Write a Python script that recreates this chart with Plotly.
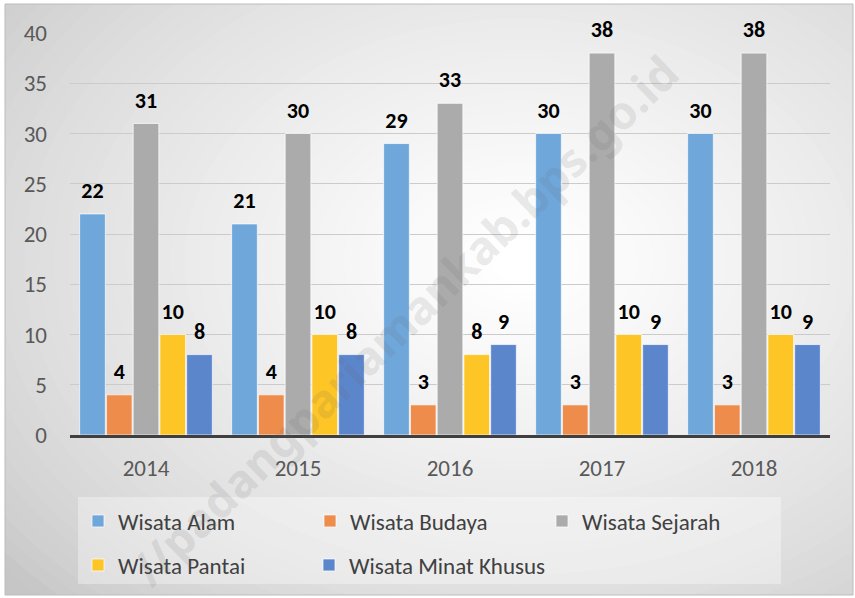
"""Jumlah objek wisata per jenis, 2014-2018."""

import plotly.graph_objects as go

years = ["2014", "2015", "2016", "2017", "2018"]
alam = [22, 21, 29, 30, 30]
budaya = [4, 4, 3, 3, 3]
sejarah = [31, 30, 33, 38, 38]
pantai = [10, 10, 8, 10, 10]
minat_khusus = [8, 8, 9, 9, 9]

series = [
    ("Wisata Alam", alam, "#6fa7db", "legend"),
    ("Wisata Budaya", budaya, "#ee8c4b", "legend"),
    ("Wisata Sejarah", sejarah, "#ababab", "legend"),
    ("Wisata Pantai", pantai, "#fdc526", "legend2"),
    ("Wisata Minat Khusus", minat_khusus, "#5c86cb", "legend3"),
]

FONT = "Carlito, Lato, sans-serif"
W, H = 855, 598
L, R, T, B = 70, 25, 33, 163  # plot area 70..830 x 33..435
GAP = 0.12


def px(x, y):
    """Pixel position -> paper coords."""
    return (x - L) / (W - L - R), (H - B - y) / (H - T - B)


fig = go.Figure()

for name, values, color, legend in series:
    fig.add_trace(
        go.Bar(
            x=years,
            y=values,
            name=name,
            legend=legend,
            marker=dict(color=color, line=dict(color="rgba(255,255,255,0.7)", width=1)),
            hovertemplate=f"{name}<br>%{{x}}: %{{y}}<extra></extra>",
        )
    )

# value labels, grouped the same way as the bars
for name, values, color, legend in series:
    fig.add_trace(
        go.Scatter(
            x=years,
            y=values,
            mode="markers+text",
            text=[f"<b>{v}</b>" for v in values],
            textposition="top center",
            textfont=dict(family=FONT, size=22, color="#000000"),
            marker=dict(size=15, color="rgba(0,0,0,0)"),
            cliponaxis=False,
            showlegend=False,
            hoverinfo="skip",
        )
    )

# radial-ish background: stacked ellipses from grey edge to white centre
shapes = []
x0, y0 = px(5, 595)
x1, y1 = px(853, 4)
shapes.append(dict(type="rect", xref="paper", yref="paper", x0=x0, y0=y0, x1=x1, y1=y1,
                   fillcolor="#c6c6c6", line=dict(width=0), layer="below"))
steps = 45
cx, cy = 520, 260
for i in range(steps):
    f = i / (steps - 1)
    rx = 640 * (1 - f) + 30
    ry = rx * 0.72
    g = int(round(199 + (255 - 199) * f ** 0.7))
    ax0, ay0 = px(cx - rx, cy + ry)
    ax1, ay1 = px(cx + rx, cy - ry)
    shapes.append(dict(type="circle", xref="paper", yref="paper", x0=ax0, y0=ay0, x1=ax1, y1=ay1,
                       fillcolor=f"rgb({g},{g},{g})", line=dict(width=0), layer="below"))

# white strips outside the chart frame
for (a, b, c, d) in [(0, 0, W, 4), (0, 595, W, H), (0, 0, 5, H), (853, 0, W, H)]:
    sx0, sy0 = px(a, d)
    sx1, sy1 = px(c, b)
    shapes.append(dict(type="rect", xref="paper", yref="paper", x0=sx0, y0=sy0, x1=sx1, y1=sy1,
                       fillcolor="white", line=dict(width=0), layer="below"))

# frame
shapes.append(dict(type="rect", xref="paper", yref="paper", x0=x0, y0=y0, x1=x1, y1=y1,
                   fillcolor="rgba(0,0,0,0)", line=dict(color="#bcbcbc", width=1), layer="below"))

# legend box
lx0, ly0 = px(78, 584)
lx1, ly1 = px(781, 497)
shapes.append(dict(type="rect", xref="paper", yref="paper", x0=lx0, y0=ly0, x1=lx1, y1=ly1,
                   fillcolor="rgba(255,255,255,0.35)", line=dict(width=0), layer="below"))

wx, wy = px(404, 320)
legend_style = dict(
    orientation="h", xanchor="left", yanchor="middle",
    entrywidth=187, bgcolor="rgba(0,0,0,0)", font=dict(size=23, color="#404040"),
    traceorder="normal",
)

fig.update_layout(
    width=W,
    height=H,
    margin=dict(l=L, r=R, t=T, b=B, autoexpand=False),
    paper_bgcolor="white",
    plot_bgcolor="rgba(0,0,0,0)",
    barmode="group",
    bargap=GAP,
    bargroupgap=0.04,
    scattermode="group",
    scattergap=GAP,
    font=dict(family=FONT, size=22, color="#595959"),
    shapes=shapes,
    legend=dict(legend_style, x=px(78, 0)[0], y=px(0, 521)[1]),
    legend2=dict(legend_style, x=px(78, 0)[0], y=px(0, 565)[1]),
    legend3=dict(legend_style, x=px(309, 0)[0], y=px(0, 565)[1], entrywidth=0),
    xaxis=dict(
        showgrid=False,
        showline=True,
        linecolor="#3f3f3f",
        linewidth=3,
        ticks="",
        ticklabelstandoff=10,
        tickfont=dict(size=23, color="#595959"),
    ),
    yaxis=dict(
        range=[0, 40],
        dtick=5,
        showgrid=True,
        gridcolor="#cbcbcb",
        gridwidth=1,
        zeroline=False,
        ticks="",
        ticklabelstandoff=22,
        tickfont=dict(size=23, color="#595959"),
    ),
    annotations=[
        dict(
            text="//padangpariamankab.bps.go.id",
            xref="paper", yref="paper", x=wx, y=wy,
            xanchor="center", yanchor="middle",
            textangle=-44, showarrow=False,
            font=dict(family="Noto Sans", size=46, color="rgba(100,100,100,0.15)", weight="bold"),
        )
    ],
)

fig.write_html(
    "out.html",
    config={"displayModeBar": False},
    post_script="document.body.style.margin='0';",
)
